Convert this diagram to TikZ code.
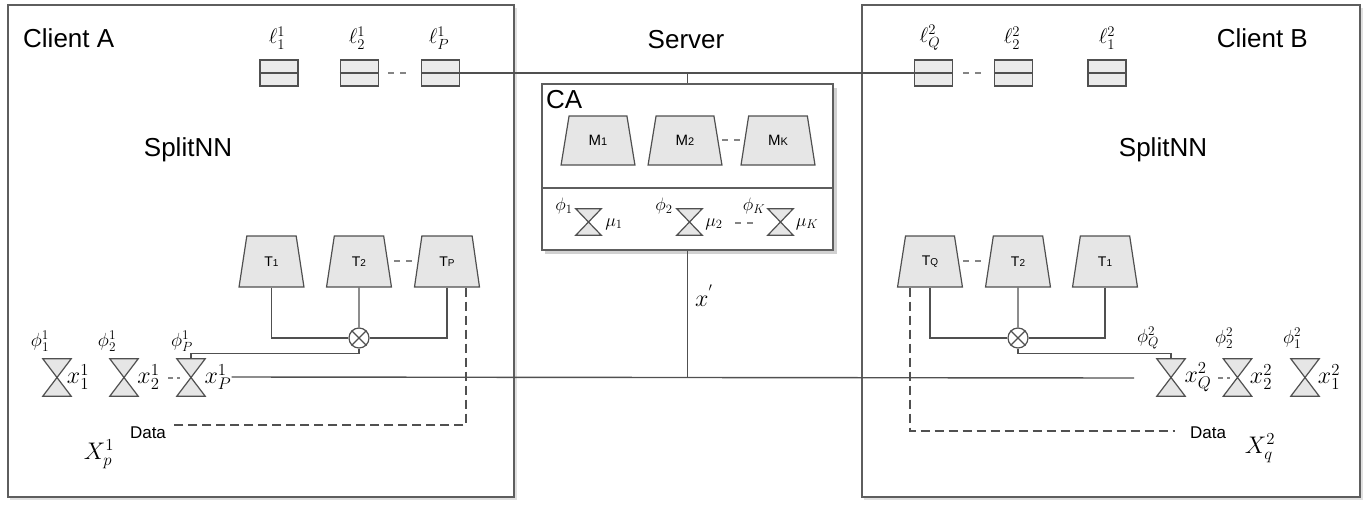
\RequirePackage{fix-cm}
\documentclass[tikz,border=0pt]{standalone}
\usepackage{fontspec}
\newfontfamily\lsans{Liberation Sans}
\usetikzlibrary{shapes.geometric}
\definecolor{ln}{HTML}{505050}
\definecolor{shp}{HTML}{E6E6E6}
\definecolor{bx}{HTML}{5E5E5E}
\newcommand\fs[1]{\fontsize{#1}{#1}\selectfont}
\newcommand\hglass[5]{%
  \node[inner sep=0pt, minimum width=#4pt, minimum height=#5pt] (#1) at (#2,#3) {};
  \draw[hgl] (#1.north west) -- (#1.north east) -- (#1.south west) -- (#1.south east) -- cycle;}
\tikzset{
  conn/.style={draw=ln, line width=1.4pt},
  dconn/.style={draw=ln, line width=1.4pt, dash pattern=on 9pt off 5pt},
  dots/.style={draw=ln!70, line width=1.3pt, dash pattern=on 6pt off 6pt},
  hgl/.style={draw=ln, fill=shp, line width=1.2pt, line join=miter},
  trap/.style={trapezium, trapezium stretches=true, draw=ln, fill=shp, line width=1.2pt,
    inner sep=0pt, trapezium angle=77, minimum width=65pt, minimum height=51pt},
  mtrap/.style={trap, minimum width=74pt, minimum height=49pt, trapezium angle=76},
  lossbox/.style={draw=ln, fill=shp!80, line width=1.2pt, minimum width=38pt,
    minimum height=26pt, inner sep=0pt},
  panel/.style={draw=bx, line width=1.6pt, inner sep=0pt, fill=white},
  shade/.style={fill=black!12},
  title/.style={font=\lsans\fs{26}, inner sep=0pt},
  small/.style={font=\lsans\fs{17}, inner sep=0pt},
  mlab/.style={inner sep=0pt, font=\fs{24}},
  slab/.style={inner sep=0pt, font=\fs{19}},
  llab/.style={inner sep=0pt, font=\fs{21}},
  mulab/.style={inner sep=0pt, font=\fs{18}},
  otimes/.style={circle, draw=ln, fill=white, line width=1.2pt, minimum size=20pt, inner sep=0pt},
}
\begin{document}
\begin{tikzpicture}[x=1pt, y=-1pt]
\useasboundingbox[fill=white] (0,0) rectangle (1371,509);

% shadows
\fill[shade] (10,8) rectangle (517,500);
\fill[shade] (864,8) rectangle (1363,500);
\fill[black!18] (545,88) rectangle (837,254);

% panels
\node[panel, minimum width=506pt, minimum height=492pt] (cliA) at (261,251) {};
\node[panel, minimum width=498pt, minimum height=492pt] (cliB) at (1111,251) {};
\node[panel, minimum width=291pt, minimum height=166pt] (ca) at (687.5,167) {};
\draw[draw=bx, line width=1.6pt] (ca.west |- 0,188) -- (ca.east |- 0,188);

% titles
\node[title, anchor=west] (tA) at (23,38) {Client A};
\node[title] (sA) at (188,150) {SplitNN};
\node[title] (srv) at (686,40) {Server};
\node[title, anchor=base west] (caT) at (546,108) {CA};
\node[title, anchor=east] (tB) at (1308,38) {Client B};
\node[title] (sB) at (1163,150) {SplitNN};

% loss boxes
\node[lossbox] (lA1) at (279,73) {};
\node[lossbox] (lA2) at (359.5,73) {};
\node[lossbox] (lAP) at (440.5,73) {};
\node[lossbox] (lBQ) at (933.5,73) {};
\node[lossbox] (lB2) at (1013.5,73) {};
\node[lossbox] (lB1) at (1107,73) {};
\foreach \n in {lA1,lA2,lAP,lBQ,lB2,lB1}
  \draw[draw=ln, line width=2.6pt] (\n.west) -- (\n.east);
\node[llab] (llA1) at (277,38) {$\ell_1^1$};
\node[llab] (llA2) at (357,38) {$\ell_2^1$};
\node[llab] (llAP) at (439,38) {$\ell_P^1$};
\node[llab] (llBQ) at (930,38) {$\ell_Q^2$};
\node[llab] (llB2) at (1012,38) {$\ell_2^2$};
\node[llab] (llB1) at (1107,38) {$\ell_1^2$};
\draw[dots] ([xshift=9pt]lA2.east) -- ([xshift=-14pt]lAP.west);
\draw[dots] ([xshift=10pt]lBQ.east) -- ([xshift=-13pt]lB2.west);

% server links
\draw[conn] (lAP.east) -- (lBQ.west);
\draw[conn] (ca.north) -- (ca.north |- lAP.east);

% CA models
\node[mtrap] (m1) at (598,140.5) {\lsans\fs{15}M\fs{11}1};
\node[mtrap] (m2) at (685,140.5) {\lsans\fs{15}M\fs{11}2};
\node[mtrap] (mK) at (778,140.5) {\lsans\fs{15}M\fs{11}K};
\draw[dots] (722,140) -- (742,140);

\hglass{h1}{588.5}{222}{25}{26}
\hglass{h2}{689.5}{222}{25}{26}
\hglass{hK}{780.5}{222}{25}{26}
\node[mulab] (ph1) at (564,206) {$\phi_1$};
\node[mulab] (ph2) at (664,206) {$\phi_2$};
\node[mulab] (phK) at (754,206) {$\phi_K$};
\node[mulab] (mu1) at (614,224) {$\mu_1$};
\node[mulab] (mu2) at (714,224) {$\mu_2$};
\node[mulab] (muK) at (807,224) {$\mu_K$};
\draw[dots] (735,223) -- (755,223);

% Client A lower
\hglass{hA1}{57}{377.5}{28}{37}
\hglass{hA2}{124}{377.5}{28}{37}
\hglass{hAP}{191}{377.5}{28}{37}
\node[mlab] (xA1) at (78,377) {$x_1^1$};
\node[mlab] (xA2) at (148.5,377) {$x_2^1$};
\node[mlab] (xAP) at (218,377) {$x_P^1$};
\node[slab] (pA1) at (40,341) {$\phi_1^1$};
\node[slab] (pA2) at (107,341) {$\phi_2^1$};
\node[slab] (pAP) at (182,341) {$\phi_P^1$};
\draw[draw=ln!70, line width=1.3pt, dash pattern=on 5pt off 4pt] (168,378) -- (180,378);

\node[trap] (tA1) at (271.5,261.5) {\lsans\fs{14}T\fs{10}1};
\node[trap] (tA2) at (359,261.5) {\lsans\fs{14}T\fs{10}2};
\node[trap] (tAP) at (447,261.5) {\lsans\fs{14}T\fs{10}P};
\draw[dots] (394,261) -- (414,261);
\node[otimes] (oA) at (359,338) {};
\draw[draw=ln, line width=1.2pt] (oA.north west) -- (oA.south east) (oA.north east) -- (oA.south west);
\draw[conn] (tA1.south) |- (oA.west);
\draw[conn] (tA2.south) -- (oA.north);
\draw[conn] (tAP.south) |- (oA.east);
\draw[conn] (oA.south) -- ++(0,5) -| (hAP.north);
\coordinate (dA) at (171,425);
\draw[dconn] ([xshift=19pt]tAP.south) |- (dA);
\node[small] (dataA) at (148,433) {Data};
\node[mlab] (XA) at (99,454) {$X_p^1$};

% x' link
\coordinate (xr) at (1134,378);
\draw[conn] (xAP.east) -- (xr);
\draw[draw=ln, line width=1.9pt] (ca.south) -- (ca.south |- xr);
\node[mlab] (xprime) at (704,296) {$x^{'}$};

% Client B lower
\node[trap] (tBQ) at (930,261.5) {\lsans\fs{14}T\fs{10}Q};
\node[trap] (tB2) at (1018,261.5) {\lsans\fs{14}T\fs{10}2};
\node[trap] (tB1) at (1105,261.5) {\lsans\fs{14}T\fs{10}1};
\draw[dots] (963,261) -- (983,261);
\node[otimes] (oB) at (1018,338) {};
\draw[draw=ln, line width=1.2pt] (oB.north west) -- (oB.south east) (oB.north east) -- (oB.south west);
\hglass{hBQ}{1171}{377.5}{28}{37}
\hglass{hB2}{1237.5}{377.5}{28}{37}
\hglass{hB1}{1305}{377.5}{28}{37}
\draw[conn] (tBQ.south) |- (oB.west);
\draw[conn] (tB2.south) -- (oB.north);
\draw[conn] (tB1.south) |- (oB.east);
\draw[conn] (oB.south) -- ++(0,5) -| (hBQ.north);
\coordinate (dB) at (1175,431);
\draw[dconn] ([xshift=-20pt]tBQ.south) |- (dB);
\node[mlab] (xBQ) at (1198,377) {$x_Q^2$};
\node[mlab] (xB2) at (1261,377) {$x_2^2$};
\node[mlab] (xB1) at (1329,377) {$x_1^2$};
\node[slab] (pBQ) at (1148,338) {$\phi_Q^2$};
\node[slab] (pB2) at (1224,338) {$\phi_2^2$};
\node[slab] (pB1) at (1292,338) {$\phi_1^2$};
\draw[draw=ln!70, line width=1.3pt, dash pattern=on 5pt off 4pt] (1218,378) -- (1230,378);
\node[small] (dataB) at (1208,433) {Data};
\node[mlab] (XB) at (1260,448) {$X_q^2$};
\end{tikzpicture}
\end{document}
